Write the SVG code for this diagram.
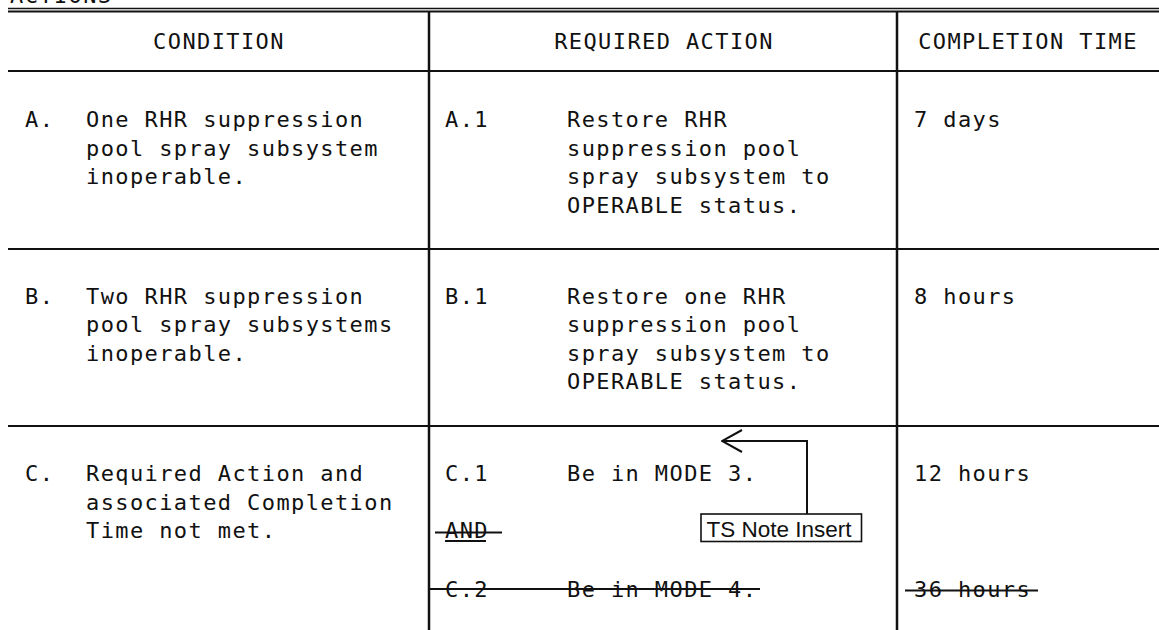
<svg xmlns="http://www.w3.org/2000/svg" width="1159" height="630" viewBox="0 0 1159 630">
<style>
.t{font-family:"DejaVu Sans Mono","Liberation Mono",monospace;font-size:22px;letter-spacing:1.4px;fill:#111}
.h{text-anchor:middle}
.rule{stroke:#111;stroke-width:2;fill:none}
.strike{stroke:#111;stroke-width:2}
.note{font-family:"Liberation Sans",Arial,sans-serif;font-size:22.5px;fill:#111}
</style>
<defs>
<marker id="openArrow" viewBox="0 0 22 24" refX="21" refY="12" markerWidth="22" markerHeight="24" markerUnits="userSpaceOnUse" orient="auto">
<path d="M1,1 L21,12 L1,23" fill="none" stroke="#111" stroke-width="2"/>
</marker>
</defs>
<rect width="1159" height="630" fill="#fff"/>
<text class="t" x="10" y="3">ACTIONS</text>
<g id="grid">
<line class="rule" x1="8" y1="8.5" x2="1159" y2="8.5" style="stroke-width:1.3"/>
<line class="rule" x1="8" y1="11.5" x2="1159" y2="11.5"/>
<line class="rule" x1="8" y1="71" x2="1159" y2="71"/>
<line class="rule" x1="8" y1="249" x2="1159" y2="249"/>
<line class="rule" x1="8" y1="426" x2="1159" y2="426"/>
<line class="rule" x1="429" y1="12" x2="429" y2="630" style="stroke-width:2.5"/>
<line class="rule" x1="897" y1="12" x2="897" y2="630" style="stroke-width:2.5"/>
</g>
<g id="header">
<text class="t h" x="219" y="49">CONDITION</text>
<text class="t h" x="664" y="49">REQUIRED ACTION</text>
<text class="t h" x="1028" y="49">COMPLETION TIME</text>
</g>
<g id="rowA">
<text class="t" x="25" y="127">A.</text>
<text class="t" x="86" y="127">One RHR suppression</text>
<text class="t" x="86" y="155.5">pool spray subsystem</text>
<text class="t" x="86" y="184">inoperable.</text>
<text class="t" x="445" y="127">A.1</text>
<text class="t" x="567" y="127">Restore RHR</text>
<text class="t" x="567" y="155.5">suppression pool</text>
<text class="t" x="567" y="184">spray subsystem to</text>
<text class="t" x="567" y="212.5">OPERABLE status.</text>
<text class="t" x="914" y="127">7 days</text>
</g>
<g id="rowB">
<text class="t" x="25" y="303.5">B.</text>
<text class="t" x="86" y="303.5">Two RHR suppression</text>
<text class="t" x="86" y="332">pool spray subsystems</text>
<text class="t" x="86" y="360.5">inoperable.</text>
<text class="t" x="445" y="303.5">B.1</text>
<text class="t" x="567" y="303.5">Restore one RHR</text>
<text class="t" x="567" y="332">suppression pool</text>
<text class="t" x="567" y="360.5">spray subsystem to</text>
<text class="t" x="567" y="389">OPERABLE status.</text>
<text class="t" x="914" y="303.5">8 hours</text>
</g>
<g id="rowC">
<text class="t" x="25" y="481">C.</text>
<text class="t" x="86" y="481">Required Action and</text>
<text class="t" x="86" y="509.5">associated Completion</text>
<text class="t" x="86" y="538">Time not met.</text>
<text class="t" x="445" y="481">C.1</text>
<text class="t" x="567" y="481">Be in MODE 3.</text>
<text class="t" x="914" y="481">12 hours</text>
<text class="t" x="445" y="538">AND</text>
<line class="strike" x1="445" y1="541" x2="486" y2="541"/>
<line class="strike" x1="435" y1="532.5" x2="502" y2="532.5"/>
<text class="t" x="445" y="596.5">C.2</text>
<text class="t" x="567" y="596.5">Be in MODE 4.</text>
<line class="strike" x1="429" y1="589" x2="760" y2="589"/>
<text class="t" x="914" y="596.5">36 hours</text>
<line class="strike" x1="905" y1="590.5" x2="1038" y2="590.5"/>
</g>
<g id="tsNote">
<rect x="701" y="514" width="160.5" height="27.5" fill="#fff" stroke="#111" stroke-width="1.6"/>
<text class="note" x="706.5" y="536.5">TS Note Insert</text>
</g>
<g id="connectors">
<polyline points="807,514 807,441 722,441" fill="none" stroke="#111" stroke-width="2" marker-end="url(#openArrow)"/>
</g>
</svg>
